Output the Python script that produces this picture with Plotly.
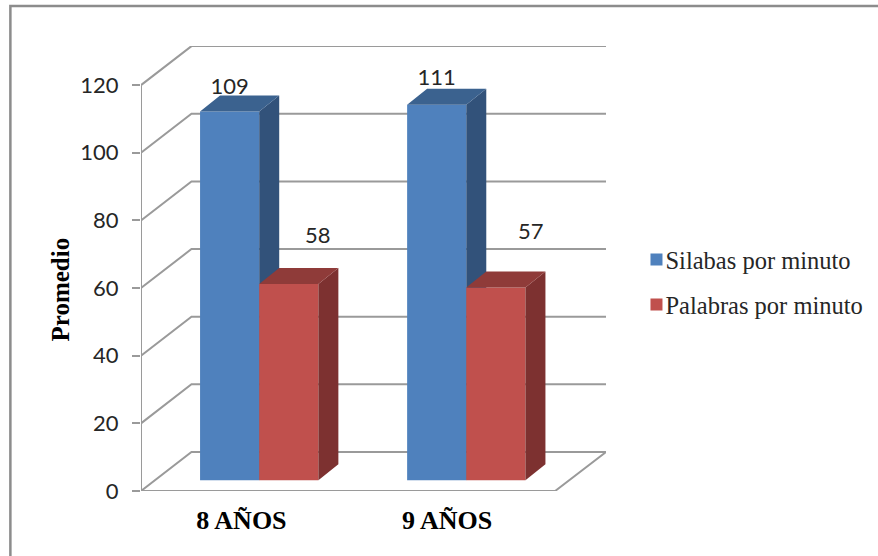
import plotly.graph_objects as go

# Data
categories = ["8 AÑOS", "9 AÑOS"]
silabas = [109, 111]
palabras = [58, 57]
y_ticks = [0, 20, 40, 60, 80, 100, 120]

# Canvas geometry (pixels of the plot area)
W, H = 878, 556
L, R, T, B = 140.7, 606.0, 46.0, 490.7
PX_PER_CAT = 207.2
PX_PER_UNIT = 3.38
X0 = -0.5
X1 = X0 + (R - L) / PX_PER_CAT
Y1 = (B - T) / PX_PER_UNIT

# Oblique projection: offsets along chart depth, in axis units
WALL_DX = 50.5 / PX_PER_CAT
WALL_DY = 39.0 / PX_PER_UNIT
BAR_SHIFT_X = 14.7 / PX_PER_CAT   # front of the bars relative to the front edge
BAR_BASE = 10.7 / PX_PER_UNIT
BAR_W = 59.2 / PX_PER_CAT
BAR_DX = 20.0 / PX_PER_CAT        # depth of each bar
BAR_DY = 16.0 / PX_PER_UNIT

GRID = "#9a9a9a"
BLUE, BLUE_SIDE, BLUE_TOP = "#4F81BD", "#32527A", "#3B628F"
RED, RED_SIDE, RED_TOP = "#C0504D", "#7D3130", "#8F3B39"
SANS = "Lato, Carlito, sans-serif"
SERIF = "'Liberation Serif', 'Times New Roman', serif"
TXT = "#262626"

fig = go.Figure()

# Walls and floor
wx, wy = [], []
for v in y_ticks:
    wx += [X0, X0 + WALL_DX, X1, None]
    wy += [v, v + WALL_DY, v + WALL_DY, None]
wx += [X0, X0, None, X0, 1.5, X1]
wy += [0, max(y_ticks), None, 0, 0, WALL_DY]
fig.add_trace(go.Scatter(x=wx, y=wy, mode="lines", line=dict(color=GRID, width=2),
                         showlegend=False, hoverinfo="skip", cliponaxis=False))


def add_series(name, values, side, front, side_col, top_col, yref):
    xs = [i + BAR_SHIFT_X + side * BAR_W for i in range(len(values))]
    fig.add_trace(go.Bar(
        x=[x + BAR_W / 2 for x in xs], y=values, base=[BAR_BASE] * len(values),
        width=BAR_W, name=name, marker=dict(color=front, line=dict(width=0)),
        yaxis=yref, legendgroup=name))
    px, py, tx, ty = [], [], [], []
    for x, v in zip(xs, values):
        top = BAR_BASE + v
        r = x + BAR_W
        px += [r, r + BAR_DX, r + BAR_DX, r, r, None]
        py += [BAR_BASE, BAR_BASE + BAR_DY, top + BAR_DY, top, BAR_BASE, None]
        tx += [x, x + BAR_DX, r + BAR_DX, r, x, None]
        ty += [top, top + BAR_DY, top + BAR_DY, top, top, None]
    for a, b, c in ((px, py, side_col), (tx, ty, top_col)):
        fig.add_trace(go.Scatter(x=a, y=b, mode="lines", fill="toself", fillcolor=c,
                                 line=dict(width=0, color=c), yaxis=yref,
                                 showlegend=False, hoverinfo="skip"))


add_series("Silabas por minuto", silabas, -1, BLUE, BLUE_SIDE, BLUE_TOP, "y2")
add_series("Palabras por minuto", palabras, 0, RED, RED_SIDE, RED_TOP, "y3")

# Data labels (pixel offsets from the front top of each bar)
BLUE_LIFT = [23, 25]
RED_LIFT = [47, 54]
RED_SHIFT = [29, 35]
lx = [i + BAR_SHIFT_X - BAR_W / 2 for i in range(2)] + \
     [i + BAR_SHIFT_X + BAR_W / 2 + RED_SHIFT[i] / PX_PER_CAT for i in range(2)]
ly = [BAR_BASE + v + d / PX_PER_UNIT for v, d in zip(silabas, BLUE_LIFT)] + \
     [BAR_BASE + v + d / PX_PER_UNIT for v, d in zip(palabras, RED_LIFT)]
fig.add_trace(go.Scatter(x=lx, y=ly, mode="text", text=[str(v) for v in silabas + palabras],
                         textposition="middle center", textfont=dict(family=SANS, size=22, color=TXT),
                         yaxis="y3", showlegend=False, hoverinfo="skip", cliponaxis=False))

axis_common = dict(range=[0, Y1], showgrid=False, zeroline=False)
fig.update_layout(
    width=W, height=H, autosize=False,
    margin=dict(l=L, r=W - R, t=T, b=H - B, pad=0, autoexpand=False),
    paper_bgcolor="white", plot_bgcolor="white",
    barmode="overlay", showlegend=True,
    xaxis=dict(range=[X0, X1], tickmode="array", tickvals=[-0.015, 0.978],
               ticktext=[f"<b>{c}</b>" for c in categories],
               showgrid=False, zeroline=False, showline=False,
               ticks="outside", ticklen=6, tickcolor="rgba(0,0,0,0)",
               tickfont=dict(family=SERIF, size=26, color="black")),
    yaxis=dict(**axis_common, tickmode="array", tickvals=y_ticks, showline=False,
               ticks="outside", ticklen=8, tickwidth=2, tickcolor=GRID,
               ticklabelstandoff=9,
               tickfont=dict(family=SANS, size=22, color=TXT)),
    yaxis2=dict(**axis_common, overlaying="y", visible=False),
    yaxis3=dict(**axis_common, overlaying="y", visible=False),
    legend=dict(x=(636.5 - L) / (R - L), xanchor="left", y=(B - 237) / (B - T), yanchor="top",
                tracegroupgap=10, itemclick=False, itemdoubleclick=False,
                bgcolor="rgba(0,0,0,0)", font=dict(family=SERIF, size=24.5, color=TXT)),
    annotations=[dict(text="<b>Promedio</b>", textangle=-90, xref="paper", yref="paper",
                      x=(60 - L) / (R - L), y=(B - 289) / (B - T), showarrow=False,
                      xanchor="center", yanchor="middle",
                      font=dict(family=SERIF, size=25, color="black"))],
    shapes=[dict(type="rect", xref="paper", yref="paper",
                 x0=(10 - L) / (R - L), x1=(1000 - L) / (R - L),
                 y0=(B - 1000) / (B - T), y1=(B - 6) / (B - T),
                 line=dict(color="#8c8c8c", width=2.5), fillcolor="rgba(0,0,0,0)", layer="below")],
)

fig.write_html("out.html", config=dict(displayModeBar=False),
               post_script="document.body.style.margin='0';document.body.style.overflow='hidden';"
                           "document.querySelectorAll('.legendtext').forEach(function(t){"
                           "t.setAttribute('x','29');});")
